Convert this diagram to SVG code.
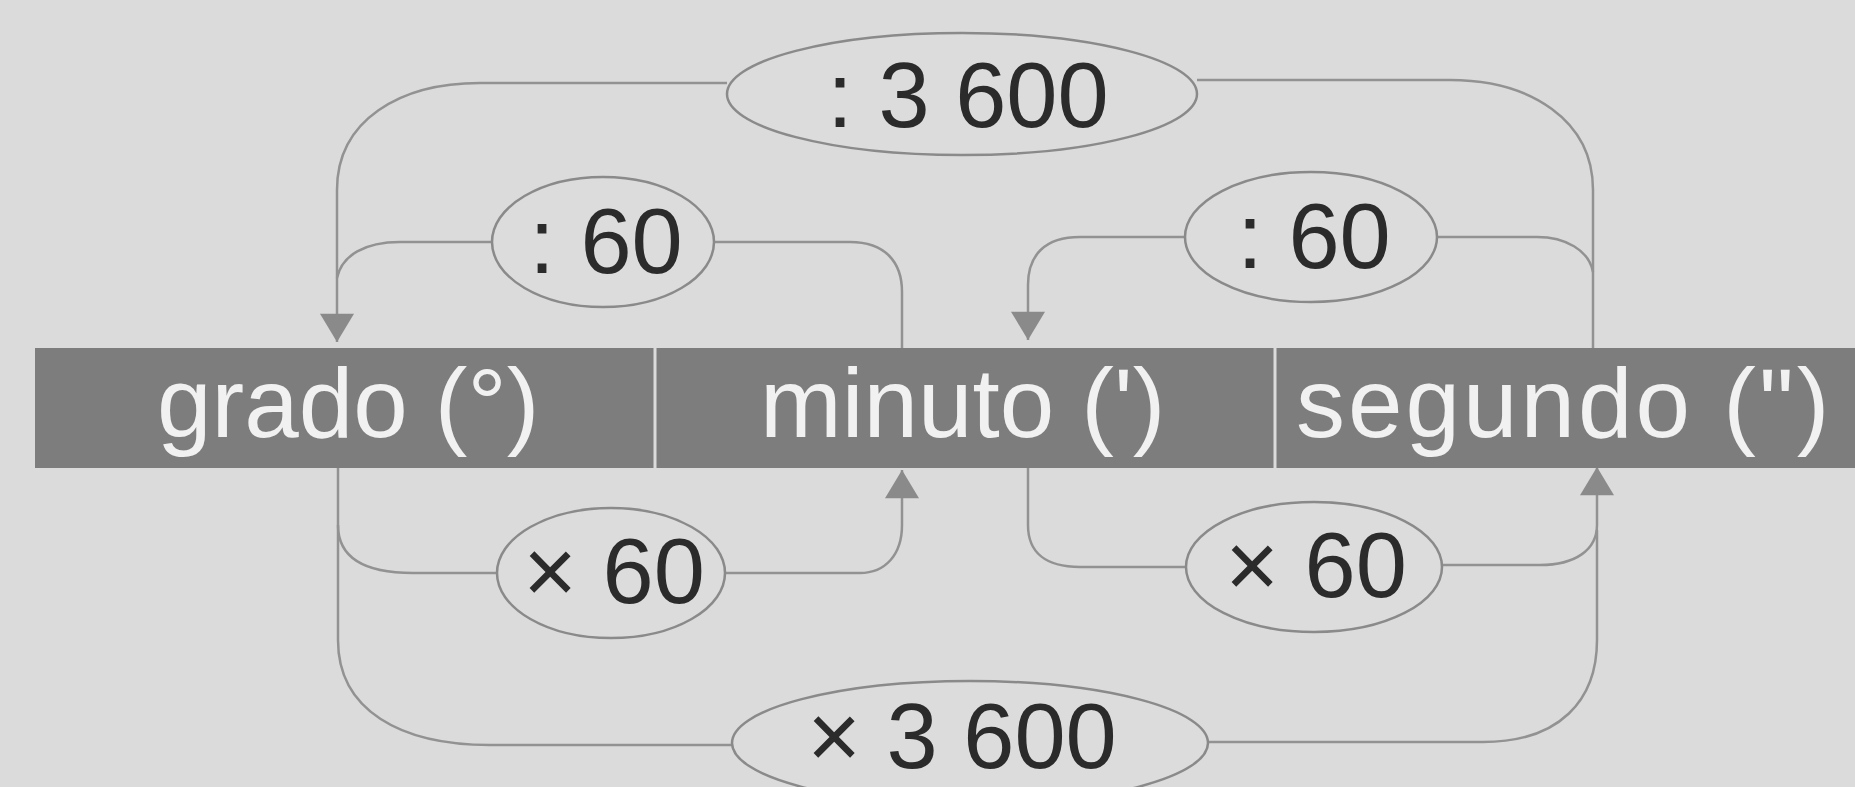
<svg xmlns="http://www.w3.org/2000/svg" width="1855" height="787" viewBox="0 0 1855 787">
<style>
.bg{fill:#dbdbdb}
.bar{fill:#7d7d7d}
.div{stroke:#dcdcdc;stroke-width:3}
.unit{font-family:"Liberation Sans",Arial,sans-serif;font-size:98px;fill:#f1f1f1}
.op{fill:#dcdcdc;stroke:#8a8a8a;stroke-width:2.5}
.opt{font-family:"Liberation Sans",Arial,sans-serif;font-size:92px;fill:#2b2b2b;text-anchor:middle}
.c{fill:none;stroke:#929292;stroke-width:2.5}
</style>
<defs>
<marker id="ah" viewBox="0 0 30 36" refX="30" refY="18" markerWidth="30" markerHeight="34" markerUnits="userSpaceOnUse" orient="auto">
<path d="M0,0 L30,18 L0,36 Z" fill="#8a8a8a"/>
</marker>
</defs>
<rect class="bg" x="0" y="0" width="1855" height="787"/>
<g id="connectors">
<path class="c" d="M727,83 H480 C400,83 337,120 337,190 V342" marker-end="url(#ah)"/>
<path class="c" d="M1197,80 H1450 C1530,80 1593,120 1593,190 V348"/>
<path class="c" d="M492,242 H400 C365,242 342,255 337,278"/>
<path class="c" d="M714,242 H850 C885,242 902,262 902,292 V348"/>
<path class="c" d="M1185,237 H1080 C1045,237 1028,255 1028,285 V340" marker-end="url(#ah)"/>
<path class="c" d="M1437,237 H1537 C1565,237 1589,250 1593,272"/>
<path class="c" d="M338,468 V525 C338,555 360,573 413,573 H497"/>
<path class="c" d="M725,573 H860 C885,573 902,555 902,525 V470" marker-end="url(#ah)"/>
<path class="c" d="M1028,468 V525 C1028,552 1045,567 1080,567 H1186"/>
<path class="c" d="M1442,565 H1540 C1575,565 1597,550 1597,525 V467" marker-end="url(#ah)"/>
<path class="c" d="M338,525 V640 C338,710 400,745 490,745 H732"/>
<path class="c" d="M1208,742 H1483 C1560,742 1597,700 1597,640 V530"/>
</g>
<g id="grado">
<rect class="bar" x="35" y="348" width="621" height="120"/>
<text class="unit" x="157" y="437">grado (°)</text>
</g>
<g id="minuto">
<rect class="bar" x="656" y="348" width="620" height="120"/>
<text class="unit" x="760" y="437">minuto (')</text>
</g>
<g id="segundo">
<rect class="bar" x="1276" y="348" width="579" height="120"/>
<text class="unit" x="1296" y="437" letter-spacing="3">segundo (")</text>
</g>
<g id="dividers">
<line class="div" x1="655" y1="348" x2="655" y2="468"/>
<line class="div" x1="1275" y1="348" x2="1275" y2="468"/>
</g>
<g id="div3600">
<ellipse class="op" cx="962" cy="94" rx="235" ry="61"/>
<text class="opt" x="968" y="127">: 3 600</text>
</g>
<g id="div60a">
<ellipse class="op" cx="603" cy="242" rx="111" ry="65"/>
<text class="opt" x="606" y="273">: 60</text>
</g>
<g id="div60b">
<ellipse class="op" cx="1311" cy="237" rx="126" ry="65"/>
<text class="opt" x="1314" y="268">: 60</text>
</g>
<g id="mul60a">
<ellipse class="op" cx="611" cy="573" rx="114" ry="65"/>
<text class="opt" x="614" y="603">× 60</text>
</g>
<g id="mul60b">
<ellipse class="op" cx="1314" cy="567" rx="128" ry="65"/>
<text class="opt" x="1316" y="597">× 60</text>
</g>
<g id="mul3600">
<ellipse class="op" cx="970" cy="743" rx="238" ry="62"/>
<text class="opt" x="962" y="768">× 3 600</text>
</g>
</svg>
